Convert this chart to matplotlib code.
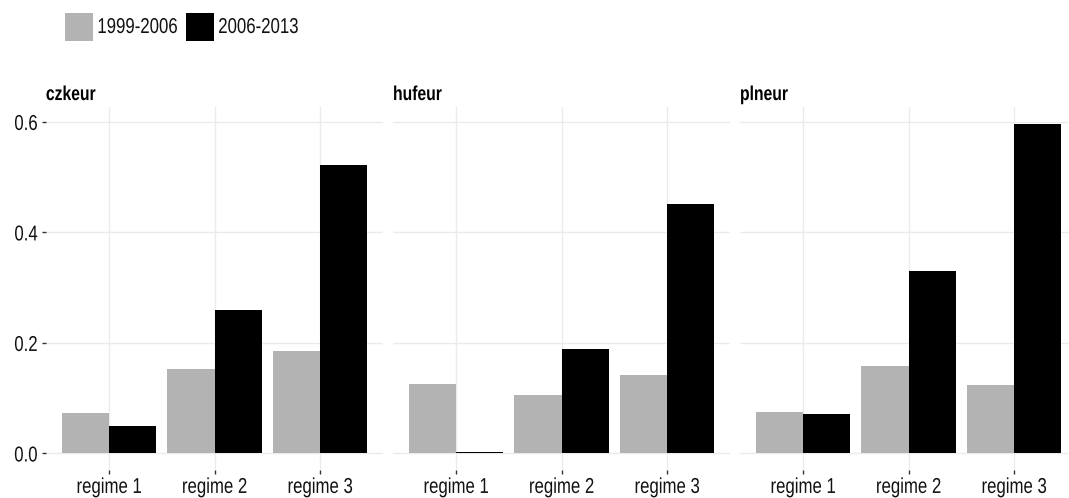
import matplotlib.pyplot as plt
import numpy as np
from matplotlib.patches import Rectangle
from matplotlib.patheffects import AbstractPathEffect
from matplotlib.path import Path
from matplotlib.transforms import Affine2D

plt.rcParams['font.family'] = ['Liberation Sans', 'DejaVu Sans']

# data
panels = ['czkeur', 'hufeur', 'plneur']
regimes = ['regime 1', 'regime 2', 'regime 3']
periods = ['1999-2006', '2006-2013']
early = {'czkeur': [0.073, 0.153, 0.186],
         'hufeur': [0.126, 0.106, 0.142],
         'plneur': [0.075, 0.158, 0.124]}
late = {'czkeur': [0.050, 0.260, 0.522],
        'hufeur': [0.002, 0.189, 0.451],
        'plneur': [0.072, 0.330, 0.597]}
colors = ['#b3b3b3', '#000000']


# the reference uses a narrow-looking font, so squeeze text horizontally
class Squeeze(AbstractPathEffect):
    def __init__(self, sx=0.78, anchor='center'):
        super().__init__()
        self.sx = sx
        self.anchor = anchor

    def draw_path(self, renderer, gc, tpath, affine, rgbFace=None):
        v = tpath.vertices
        if tpath.codes is not None:
            v = v[tpath.codes != Path.CLOSEPOLY]
        xs = affine.transform(v)[:, 0]
        if len(xs) == 0:
            return
        if self.anchor == 'left':
            x0 = xs.min()
        elif self.anchor == 'right':
            x0 = xs.max()
        else:
            x0 = (xs.min() + xs.max()) / 2
        t = affine + Affine2D().translate(-x0, 0).scale(self.sx, 1).translate(x0, 0)
        renderer.draw_path(gc, tpath, t, rgbFace)


fs = 15.5
W, H = 1069, 498
fig = plt.figure(figsize=(W / 100, H / 100), dpi=100)

# panel geometry in pixels
pw, ph = 337.6, 363
lefts = [45.7, 392.7, 739.7]
top = 107

x = np.arange(1, 4)
for i, name in enumerate(panels):
    ax = fig.add_axes([lefts[i] / W, (H - top - ph) / H, pw / W, ph / H])
    ax.bar(x - 0.225, early[name], width=0.45, color=colors[0], zorder=2)
    ax.bar(x + 0.225, late[name], width=0.45, color=colors[1], zorder=2)
    ax.set_xlim(0.4, 3.6)
    ax.set_ylim(-0.0299, 0.627)
    ax.set_xticks(x)
    ax.set_xticklabels(regimes, fontsize=fs)
    ax.set_yticks([0, 0.2, 0.4, 0.6])
    if i == 0:
        ax.set_yticklabels(['0.0', '0.2', '0.4', '0.6'], fontsize=fs)
    else:
        ax.tick_params(axis='y', left=False, labelleft=False)
    ax.grid(True, color='#ebebeb', linewidth=1, zorder=0)
    ax.set_axisbelow(True)
    for s in ax.spines.values():
        s.set_visible(False)
    ax.tick_params(axis='both', color='#333333', length=3, width=1, pad=2,
                   labelcolor='#111111')
    ax.tick_params(axis='y', pad=2.5)
    t = ax.set_title(name, loc='left', fontsize=14.5, fontweight='bold', pad=5)
    t.set_path_effects([Squeeze(anchor='left')])
    for lab in ax.get_xticklabels():
        lab.set_path_effects([Squeeze(anchor='center')])
    for lab in ax.get_yticklabels():
        lab.set_path_effects([Squeeze(anchor='right')])

# legend at top left (keys + labels laid out by hand)
key_x = [65, 186]
for kx, c, lab in zip(key_x, colors, periods):
    fig.add_artist(Rectangle((kx / W, 1 - 41 / H), 28 / W, 28 / H,
                             transform=fig.transFigure, facecolor=c,
                             edgecolor='none'))
    txt = fig.text((kx + 32) / W, 1 - 27.5 / H, lab, fontsize=fs,
                   ha='left', va='center', color='#111111')
    txt.set_path_effects([Squeeze(anchor='left')])

fig.savefig('out.png', dpi=100)
